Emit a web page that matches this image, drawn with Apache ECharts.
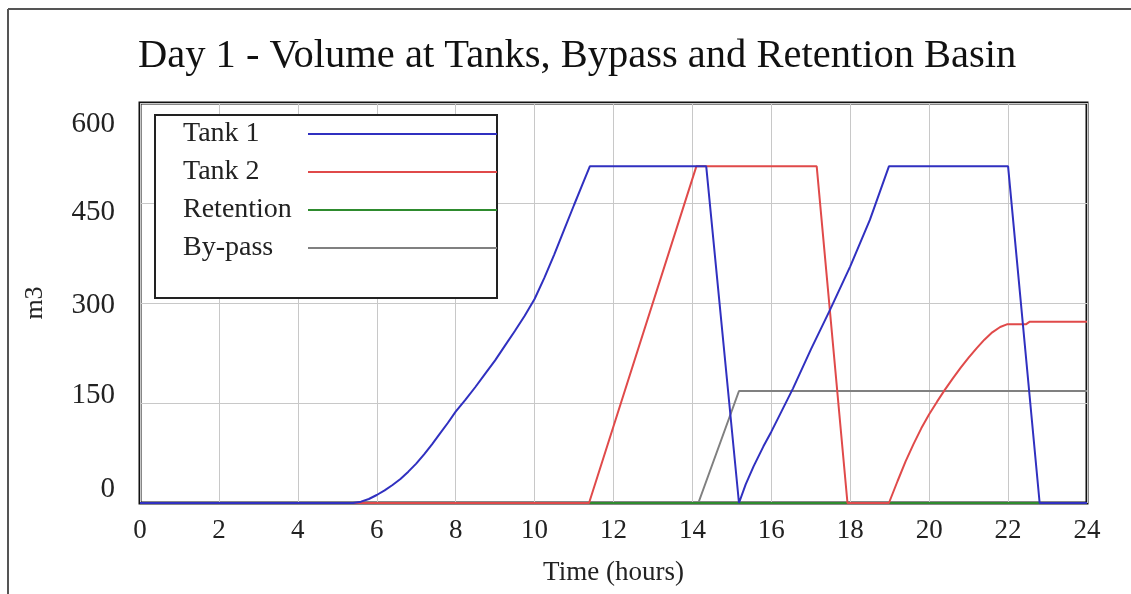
<!DOCTYPE html>
<html>
<head>
<meta charset="utf-8">
<script src="https://cdn.jsdelivr.net/npm/echarts@6/dist/echarts.min.js"></script>
<style>
  html, body { margin: 0; padding: 0; background: #fff; }
  #main { width: 1131px; height: 594px; }
</style>
</head>
<body>
<div id="main"></div>
<script>
const seriesNames = ['Tank 1', 'Tank 2', 'Retention', 'By-pass']
const colors = ['#3030c0', '#e04a4a', '#2e8b2e', '#808080']

// time (hours) and volume (m3)
const tank1Time = [0, 5.4, 5.6, 5.8, 6.0, 6.2, 6.4, 6.6, 6.8, 7.0, 7.2, 7.4, 7.6, 7.8, 8.0, 8.25, 8.5, 8.75, 9.0, 9.25, 9.5, 9.75, 10.0, 10.25, 10.5, 10.75, 11.0, 11.2, 11.4,
  14.35, 15.18, 15.35, 15.55, 15.8, 16.0, 16.22, 16.55, 17.0, 17.49, 18.0, 18.5, 18.98, 22.0, 22.8, 24]
const tank1Vol = [0, 0, 2, 6, 12, 19, 27, 36, 47, 59, 73, 88, 104, 120, 137, 155, 174, 194, 214, 236, 258, 281, 306, 338, 373, 410, 447, 476, 505,
  505, 0, 28, 55, 85, 107, 133, 172, 230, 290, 355, 425, 505, 505, 0, 0]
const tank2Time = [0, 11.38, 14.1, 17.15, 17.93, 18.98, 19.2, 19.4, 19.6, 19.8, 20.0, 20.2, 20.4, 20.6, 20.8, 21.0, 21.2, 21.4, 21.6, 21.8, 21.97, 22.45, 22.55, 24]
const tank2Vol = [0, 0, 505, 505, 0, 0, 33, 62, 88, 112, 133, 152, 170, 187, 203, 218, 232, 245, 256, 264, 268, 268, 272, 272]
const retentionTime = [0, 24]
const retentionVol = [0, 0]
const bypassTime = [0, 14.15, 15.18, 24]
const bypassVol = [0, 0, 168, 168]

const xTicks = { min: 0, max: 24, interval: 2 }
const yTicks = { min: 0, max: 600, interval: 150 }

const zip = (t, v) => t.map((x, i) => [x, v[i]])
const seriesData = [
  zip(tank1Time, tank1Vol),
  zip(tank2Time, tank2Vol),
  zip(retentionTime, retentionVol),
  zip(bypassTime, bypassVol),
]

// y labels sit a bit off their gridlines in the original
const labelShift = { 600: 's0', 450: 's1', 300: 's2', 150: 's3', 0: 's4' }
const labelFont = { fontFamily: 'Liberation Serif', fontSize: 27, color: '#222' }
const yLabelFont = { fontFamily: 'Liberation Serif', fontSize: 29, color: '#222' }

var myChart = echarts.init(document.getElementById('main'))
let option = {
  backgroundColor: '#fff',
  animation: false,
  title: {
    text: 'Day 1 - Volume at Tanks, Bypass and Retention Basin',
    left: 133,
    top: 31,
    textStyle: {
      fontFamily: 'Liberation Serif',
      fontSize: 40.5,
      fontWeight: 'normal',
      color: '#111',
    },
  },
  graphic: [
    { type: 'line', shape: { x1: 8, y1: 9, x2: 1131, y2: 9 }, style: { stroke: '#555', lineWidth: 2 } },
    { type: 'line', shape: { x1: 8, y1: 9, x2: 8, y2: 594 }, style: { stroke: '#555', lineWidth: 2 } },
  ],
  legend: {
    orient: 'vertical',
    left: 155,
    top: 115,
    align: 'right',
    padding: [5, 0, 36, 28],
    itemGap: 10,
    itemWidth: 189,
    itemHeight: 2,
    icon: 'rect',
    backgroundColor: '#fff',
    borderColor: '#222',
    borderWidth: 2,
    borderRadius: 0,
    formatter: function (name) {
      return '{n|' + name + '}'
    },
    textStyle: {
      fontFamily: 'Liberation Serif',
      fontSize: 28,
      color: '#222',
      lineHeight: 28,
      rich: {
        n: {
          fontFamily: 'Liberation Serif',
          fontSize: 28,
          color: '#222',
          width: 120,
          align: 'left',
        },
      },
    },
    data: seriesNames,
  },
  grid: {
    left: 140,
    right: 44,
    top: 103,
    bottom: 91,
    show: true,
    borderColor: '#111',
    borderWidth: 3,
    containLabel: false,
  },
  xAxis: {
    type: 'value',
    min: xTicks.min,
    max: xTicks.max,
    interval: xTicks.interval,
    name: 'Time (hours)',
    nameLocation: 'middle',
    nameGap: 56,
    nameTextStyle: labelFont,
    axisLine: { show: false },
    axisTick: { show: false },
    axisLabel: { margin: 14, ...labelFont },
    splitLine: { show: true, lineStyle: { color: '#c8c8c8', width: 1 } },
  },
  yAxis: {
    type: 'value',
    min: yTicks.min,
    max: yTicks.max,
    interval: yTicks.interval,
    name: 'm3',
    nameLocation: 'middle',
    nameGap: 92,
    nameRotate: 90,
    nameTextStyle: { fontFamily: 'Liberation Serif', fontSize: 26, color: '#222' },
    axisLine: { show: false },
    axisTick: { show: false },
    axisLabel: {
      margin: 25,
      ...yLabelFont,
      formatter: function (v) {
        return '{' + labelShift[v] + '|' + v + '}'
      },
      rich: {
        s0: { ...yLabelFont, padding: [42, 0, 0, 0] },
        s1: { ...yLabelFont, padding: [18, 0, 0, 0] },
        s2: { ...yLabelFont, padding: [4, 0, 0, 0] },
        s3: { ...yLabelFont, padding: [0, 0, 16, 0] },
        s4: { ...yLabelFont, padding: [0, 0, 28, 0] },
      },
    },
    splitLine: { show: true, lineStyle: { color: '#c8c8c8', width: 1 } },
  },
  series: seriesNames.map((name, i) => ({
    name: name,
    type: 'line',
    data: seriesData[i],
    showSymbol: false,
    symbol: 'none',
    z: 10 - i,
    color: colors[i],
    lineStyle: { width: 2, color: colors[i] },
  })),
}
myChart.setOption(option)
</script>
</body>
</html>
